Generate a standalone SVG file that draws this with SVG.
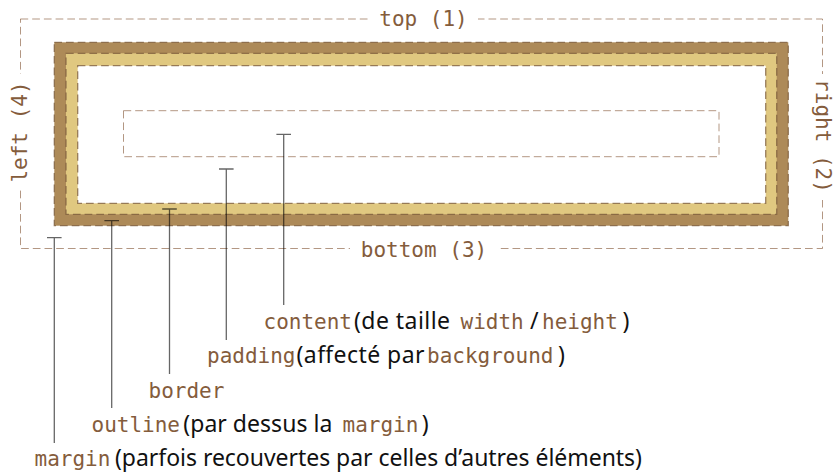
<svg xmlns="http://www.w3.org/2000/svg" width="833" height="473" viewBox="0 0 833 473">
  <style>
    .dash { fill: none; stroke: #8a6040; stroke-width: 1; stroke-dasharray: 7.7 4; stroke-opacity: 0.65; }
    .bdash { fill: none; stroke: #7a5a3a; stroke-width: 1.3; stroke-dasharray: 7.7 4; stroke-opacity: 0.75; }
    .tick { stroke: #000; stroke-opacity: 0.6; stroke-width: 1.3; fill: none; }
    .mono { font-family: "DejaVu Sans Mono", "Liberation Mono", monospace; font-size: 21px; fill: #845c3c; }
    .sans { font-family: "Noto Sans", "Open Sans", sans-serif; font-size: 23px; fill: #111; }
  </style>

  <!-- margin box with side labels -->
  <g id="margin-box">
    <rect class="dash" x="20.5" y="19" width="802" height="229.5"/>
    <rect x="370" y="8" width="108" height="24" fill="#fff"/>
    <rect x="350" y="238" width="148" height="24" fill="#fff"/>
    <rect x="4" y="74" width="30" height="116" fill="#fff"/>
    <rect x="808" y="74" width="24" height="126" fill="#fff"/>
    <text class="mono" x="423.5" y="26" text-anchor="middle">top (1)</text>
    <text class="mono" x="424" y="256.5" text-anchor="middle">bottom (3)</text>
    <text class="mono" text-anchor="middle" transform="translate(26.5,132) rotate(-90)">left (4)</text>
    <text class="mono" text-anchor="middle" transform="translate(815.5,136) rotate(90)">right (2)</text>
  </g>

  <!-- outline band -->
  <g id="outline">
    <rect x="54.3" y="42.3" width="734" height="183.4" fill="#ad8a58"/>
  </g>

  <!-- border band -->
  <g id="border">
    <rect x="66" y="53.3" width="710.7" height="161" fill="#e0c880"/>
  </g>

  <!-- padding area -->
  <g id="padding">
    <rect x="77.7" y="65.7" width="688" height="137.6" fill="#fff"/>
  </g>

  <!-- dashed edges of the bands -->
  <g id="edges">
    <rect class="bdash" x="54.3" y="42.3" width="734" height="183.4"/>
    <rect class="bdash" x="66" y="53.3" width="710.7" height="161"/>
    <rect class="bdash" x="77.7" y="65.7" width="688" height="137.6"/>
  </g>

  <!-- content box -->
  <g id="content">
    <rect class="dash" x="123.5" y="110.7" width="595.5" height="46"/>
  </g>

  <!-- leader lines -->
  <g id="connectors">
    <path class="tick" d="M54.3 237.7V443 M47 237.7H61.6"/>
    <path class="tick" d="M111.7 220.7V408 M104.4 220.7H119"/>
    <path class="tick" d="M169.5 209V374 M162.2 209H176.8"/>
    <path class="tick" d="M226.3 169V340 M219 169H233.6"/>
    <path class="tick" d="M283.7 134.3V305 M276.4 134.3H291"/>
  </g>

  <!-- captions -->
  <g id="labels">
    <text class="mono" x="263.5" y="329">content</text>
    <text class="sans" x="354" y="329" textLength="96" lengthAdjust="spacing">(de taille</text>
    <text class="mono" x="460.5" y="329">width</text>
    <text class="sans" x="530" y="329">/</text>
    <text class="mono" x="542" y="329">height</text>
    <text class="sans" x="622.5" y="329">)</text>

    <text class="mono" x="207" y="363.3">padding</text>
    <text class="sans" x="296.5" y="363.3" textLength="128" lengthAdjust="spacing">(affecté par</text>
    <text class="mono" x="427" y="363.3">background</text>
    <text class="sans" x="558" y="363.3">)</text>

    <text class="mono" x="148.5" y="397.6">border</text>

    <text class="mono" x="91.5" y="431.9">outline</text>
    <text class="sans" x="183.3" y="431.9" textLength="149" lengthAdjust="spacing">(par dessus la</text>
    <text class="mono" x="342.5" y="431.9">margin</text>
    <text class="sans" x="421.7" y="431.9">)</text>

    <text class="mono" x="34.5" y="466.2">margin</text>
    <text class="sans" x="115" y="466.2" textLength="527" lengthAdjust="spacing">(parfois recouvertes par celles d’autres éléments)</text>
  </g>
</svg>
